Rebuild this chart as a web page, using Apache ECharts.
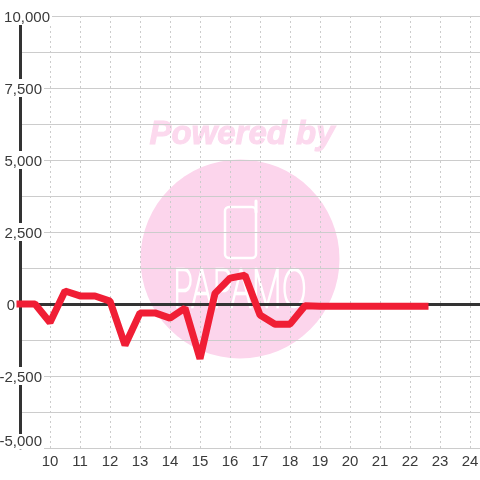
<!DOCTYPE html>
<html>
<head>
<meta charset="utf-8">
<style>
html, body { margin: 0; padding: 0; background: #fff; }
#main { width: 480px; height: 480px; }
</style>
<script src="https://cdn.jsdelivr.net/npm/echarts@6/dist/echarts.min.js"></script>
</head>
<body>
<div id="main"></div>
<script>
var hours = [9, 9.5, 10, 10.5, 11, 11.5, 12, 12.5, 13, 13.5, 14, 14.5, 15, 15.5, 16, 16.5, 17, 17.5, 18, 18.5, 19, 19.5, 20, 20.5, 21, 21.5, 22, 22.5];
var values = [0, 0, -640, 450, 280, 280, 100, -1430, -310, -310, -490, -140, -1900, 370, 900, 1000, -380, -700, -700, -60, -80, -80, -80, -80, -80, -80, -80, -80];

var textColor = '#3a3a3a';
var gridColor = '#cccccc';

// gap keeps each label's text where the original puts it
function yLabel(v) {
    var s = v.toLocaleString('en-US');
    var gap = v === 10000 ? '' : v === 0 ? '{g0|}' : '{g8|}';
    return '{' + (v === -5000 ? 'b' : 't') + '|' + s + '}' + gap;
}

var labelText = {
    color: textColor,
    fontFamily: 'Liberation Sans',
    fontSize: 15,
    lineHeight: 13,
    backgroundColor: '#fff'
};

var myChart = echarts.init(document.getElementById('main'));
myChart.setOption({
    animation: false,
    grid: { left: 20, top: 16, width: 460, height: 432, outerBoundsMode: 'none' },
    xAxis: [{
        type: 'value',
        position: 'bottom',
        min: 9,
        max: 24.333,
        interval: 1,
        axisLine: { show: false, onZero: false },
        axisTick: { show: false },
        axisLabel: {
            color: textColor,
            fontFamily: 'Liberation Sans',
            fontSize: 15,
            margin: 6,
            showMinLabel: false,
            showMaxLabel: false
        },
        splitLine: { show: true, lineStyle: { color: gridColor, type: [2, 3], width: 1 } }
    }, {
        type: 'value',
        position: 'top',
        min: 9,
        max: 24.333,
        interval: 1,
        axisLine: { show: true, onZero: true, lineStyle: { color: '#333333', width: 3 } },
        axisTick: { show: false },
        axisLabel: { show: false },
        splitLine: { show: false }
    }],
    yAxis: {
        type: 'value',
        min: -5000,
        max: 10000,
        interval: 2500,
        axisLine: { show: true, onZero: false, lineStyle: { color: '#333333', width: 3 } },
        axisTick: { show: false },
        minorTick: { show: false, splitNumber: 2 },
        minorSplitLine: { show: true, lineStyle: { color: gridColor, width: 1 } },
        splitLine: { show: true, lineStyle: { color: gridColor, width: 1 } },
        axisLabel: {
            margin: -32,
            align: 'right',
            verticalAlignMinLabel: 'bottom',
            formatter: yLabel,
            rich: {
                t: Object.assign({ padding: [3, 2, 0, 1] }, labelText),
                b: Object.assign({ padding: [0, 2, 0, 1] }, labelText),
                g8: { width: 8 },
                g0: { width: 35 }
            }
        }
    },
    graphic: [{
        type: 'circle',
        z: -10,
        shape: { cx: 240, cy: 259, r: 99.5 },
        style: { fill: '#fcd5ec' }
    }, {
        type: 'text',
        z: -10,
        x: 242,
        y: 135,
        style: {
            text: 'Powered by',
            fill: '#fcd9ee',
            stroke: '#fcd9ee',
            lineWidth: 1,
            font: 'italic bold 33px "Liberation Sans"',
            align: 'center',
            verticalAlign: 'middle'
        }
    }, {
        type: 'rect',
        z: -9,
        shape: { x: 225, y: 207, width: 31, height: 51, r: 4 },
        style: { fill: 'none', stroke: '#fff', lineWidth: 2.5 }
    }, {
        type: 'line',
        z: -9,
        shape: { x1: 256, y1: 201, x2: 256, y2: 212 },
        style: { stroke: '#fff', lineWidth: 3, lineCap: 'round' }
    }, {
        type: 'text',
        z: -9,
        x: 240,
        y: 291,
        scaleX: 0.84,
        scaleY: 1.3,
        style: {
            text: 'PAPAMO',
            fill: '#fff',
            stroke: '#fff',
            lineWidth: 1.8,
            font: '100 40px "Inter"',
            align: 'center',
            verticalAlign: 'middle'
        }
    }],
    series: [{
        type: 'line',
        data: hours.map(function (h, i) { return [h, values[i]]; }),
        showSymbol: false,
        symbol: 'none',
        clip: false,
        lineStyle: { color: '#f01e35', width: 7, cap: 'square', join: 'bevel' }
    }]
});
</script>
</body>
</html>
